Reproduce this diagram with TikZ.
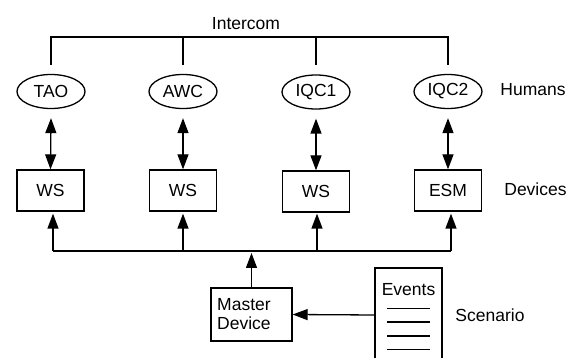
\documentclass[tikz,border=0pt]{standalone}
\usepackage{fontspec}
\setmainfont{Liberation Sans}
\usetikzlibrary{arrows.meta,shapes.geometric}
\begin{document}
\begin{tikzpicture}[x=1pt,y=-1pt,
  every node/.style={font=\fontsize{17.5}{19}\selectfont},
  line/.style={line width=1.3pt},
  arr/.style={line width=1.3pt,-{Triangle[length=15pt,width=11pt]}},
  darr/.style={line width=1.3pt,{Triangle[length=15pt,width=11pt]}-{Triangle[length=15pt,width=11pt]}},
  human/.style={draw,line width=1.3pt,ellipse,minimum width=68pt,minimum height=34pt,inner sep=0pt},
  device/.style={draw,line width=1.3pt,rectangle,minimum width=67pt,minimum height=41pt,inner sep=0pt},
  lbl/.style={inner sep=0pt}]
\clip (0,0) rectangle (576,358);
\fill[white] (0,0) rectangle (576,358);
% humans
\node[human] (tao) at (51,91.5) {TAO};
\node[human] (awc) at (183,91.5) {AWC};
\node[human] (iqc1) at (316,92) {IQC1};
\node[human] (iqc2) at (448,91.5) {IQC2};
% devices
\node[device] (ws1) at (50.5,190.5) {WS};
\node[device] (ws2) at (183,190.5) {WS};
\node[device] (ws3) at (316,191.5) {WS};
\node[device] (esm) at (448,190.5) {ESM};
% labels
\node[lbl] (intercom) at (246,24) {Intercom};
\node[lbl] (humans) at (533,90) {Humans};
\node[lbl] (devices) at (535.5,189) {Devices};
\node[lbl] (scenario) at (490,315) {Scenario};
% master device
\node[draw,line width=1.3pt,minimum width=81pt,minimum height=53pt,inner sep=0pt] (master) at (251.5,314.5) {};
\node[lbl,align=left,anchor=west] (mastertxt) at (217,314) {Master\\Device};
% events
\draw[line] (375,380) -- (375,268) -- (442,268) -- (442,380);
\coordinate (evleft) at (375,315);
\node[lbl] (events) at (408.5,289.5) {Events};
\foreach \yy in {308.5,322,336,349.5} \draw[line] (387,\yy) -- (430,\yy);
% intercom
\coordinate (ic1) at (51,37);
\coordinate (ic4) at (448,37);
\draw[line] (51,65) -- (ic1) -- (ic4) -- (448,65);
\draw[line] (183,37) -- (183,65);
\draw[line] (316,37) -- (316,65);
% human-device arrows
\foreach \h/\d in {tao/ws1,awc/ws2,iqc1/ws3,iqc2/esm}
  \draw[darr] ([yshift=-9pt]\h.south) -- (\d.north);
% bus
\coordinate (busl) at (53,251);
\coordinate (busr) at (451,251);
\draw[line] (busl) -- (busr);
\draw[arr] (busl) -- ([xshift=2.5pt,yshift=-2pt]ws1.south);
\draw[arr] (183,251) -- ([yshift=-2pt]ws2.south);
\draw[arr] (317,251) -- ([xshift=1pt,yshift=-1pt]ws3.south);
\draw[arr] (busr) -- ([xshift=3pt,yshift=-2pt]esm.south);
\draw[arr] (master.north) -- ([yshift=-2pt]master.north |- busl);
\draw[arr] (evleft) -- (master.east);
\end{tikzpicture}
\end{document}
